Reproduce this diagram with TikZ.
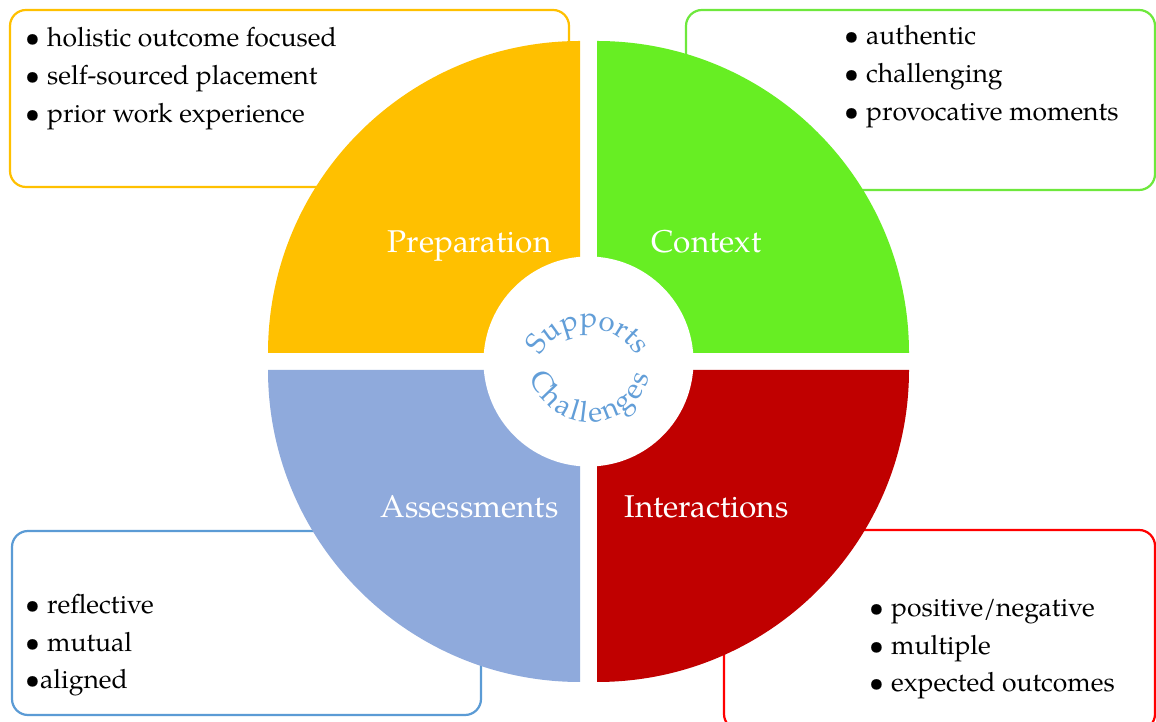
\documentclass[tikz,border=0pt]{standalone}
\usepackage{fontspec}
\setmainfont{TeX Gyre Pagella}
\usetikzlibrary{decorations.text}
\definecolor{cprep}{RGB}{255,192,0}
\definecolor{cctx}{RGB}{103,238,35}
\definecolor{cint}{RGB}{192,0,0}
\definecolor{cass}{RGB}{143,170,220}
\definecolor{bgreen}{RGB}{110,232,60}
\definecolor{bblue}{RGB}{91,155,213}
\definecolor{bred}{RGB}{255,0,0}
\definecolor{arcblue}{RGB}{98,158,216}
\newcommand{\arcfnt}{\fontsize{29}{29}\selectfont}
\newcommand{\bul}[1]{\makebox[#1][l]{\textbullet}}
\begin{document}
\begin{tikzpicture}[x=1pt,y=1pt,
  boxframe/.style={draw, line width=2.2pt, rounded corners=16pt, fill=white},
  bulletitem/.style={anchor=base west, inner sep=0pt, font=\fontsize{26.5}{30}\selectfont},
  seclabel/.style={anchor=base, inner sep=0pt, text=white, font=\fontsize{31.5}{34}\selectfont}]
\useasboundingbox (0,0) rectangle (1156,722);
\fill[white] (0,0) rectangle (1156,722);
% boxes
\draw[boxframe, draw=cprep] (10,535) rectangle (569,712);
\draw[boxframe, draw=bgreen] (686,532) rectangle (1155,712);
\draw[boxframe, draw=bblue] (12,7) rectangle (481,191);
\draw[boxframe, draw=bred] (724,-8) rectangle (1155,192);
% sectors
\fill[cprep] (580,369) -- (268,369) arc[start angle=180,end angle=90,radius=312] -- cycle;
\fill[cctx] (597,369) -- (597,681) arc[start angle=90,end angle=0,radius=312] -- cycle;
\fill[cass] (580,352) -- (580,40) arc[start angle=270,end angle=180,radius=312] -- cycle;
\fill[cint] (597,352) -- (909,352) arc[start angle=0,end angle=-90,radius=312] -- cycle;
% hub
\node[circle, fill=white, minimum size=210pt, inner sep=0pt] (hub) at (588.5,360.5) {};
% curved text
\path[decorate, decoration={text along path, text align=center,
  text={|\arcfnt\color{arcblue}|Supports}}]
  (588,339) ++(180:55) arc[start angle=180, end angle=0, radius=55];
\path[decorate, decoration={text along path, text align=fit to path,
  text={|\arcfnt\color{arcblue}|Challenges}}]
  (590,362) ++(195:62) arc[start angle=195, end angle=345, radius=62];
% sector labels
\node[seclabel] (prep) at (469.5,469) {Preparation};
\node[seclabel] (ctx) at (706.5,469) {Context};
\node[seclabel] (ass) at (469.5,204) {Assessments};
\node[seclabel] (int) at (706.5,204) {Interactions};
% bullet lists
\node[bulletitem] (p1) at (25,675) {\bul{22pt}holistic outcome focused};
\node[bulletitem] (p2) at (25,637) {\bul{22pt}self-sourced placement};
\node[bulletitem] (p3) at (25,599) {\bul{22pt}prior work experience};
\node[bulletitem] (c1) at (844,677) {\bul{22pt}authentic};
\node[bulletitem] (c2) at (844,639) {\bul{22pt}challenging};
\node[bulletitem] (c3) at (844,601) {\bul{22pt}provocative moments};
\node[bulletitem] (a1) at (25,108) {\bul{22pt}reflective};
\node[bulletitem] (a2) at (25,70) {\bul{22pt}mutual};
\node[bulletitem] (a3) at (25,33) {\bul{15pt}aligned};
\node[bulletitem] (i1) at (869,105) {\bul{22pt}positive/negative};
\node[bulletitem] (i2) at (869,67) {\bul{22pt}multiple};
\node[bulletitem] (i3) at (869,30) {\bul{22pt}expected outcomes};
\end{tikzpicture}
\end{document}
